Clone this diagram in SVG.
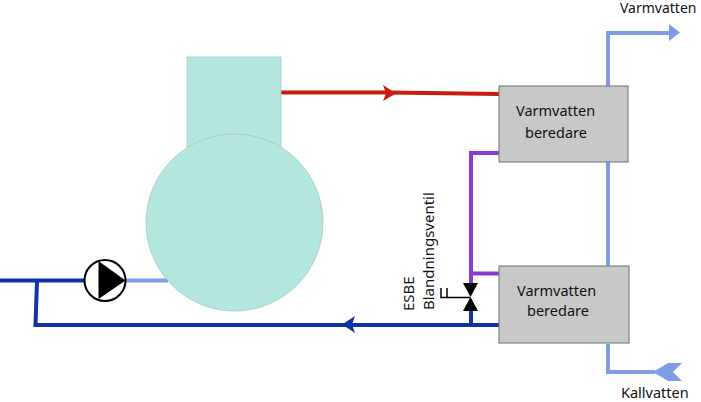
<svg xmlns="http://www.w3.org/2000/svg" width="701" height="402" viewBox="0 0 701 402">
<style>
.p{fill:none;stroke-width:4}
.lb{stroke:#7f9de6}
.db{stroke:#1232a4}
.pu{stroke:#8a3bd6}
.re{stroke:#c81d10}
.box{fill:#c8c8c8;stroke:#6e6e6e;stroke-width:1}
.tank{fill:#b2e6df;stroke:#9cc9c3;stroke-width:.75}
text{font-family:"Noto Sans","Open Sans",sans-serif;font-size:14.500px;fill:#111}
.v{font-size:15px}
.t{font-size:14px}
</style>
<rect width="701" height="402" fill="#fff"/>
<g id="connectors">
<path class="p re" d="M281 92.500H390L500 94"/>
<path class="p lb" d="M608 87V33H670"/>
<path class="p lb" d="M608 162V267"/>
<path class="p lb" d="M608 344V372H655"/>
<path class="p pu" d="M499 153H471V283"/>
<path class="p pu" d="M499 273.500H471"/>
<path class="p db" d="M471 310V325"/>
<path class="p db" d="M0 280.500H100"/>
<path class="p lb" d="M120 280.500H168"/>
<path class="p db" d="M37 281L35.500 325H500"/>
<path d="M383 85L396 93.500L383 101L386 93.500Z" fill="#c81d10"/>
<path d="M669 24L680 32.500L669 41Z" fill="#7f9de6"/>
<path d="M653 372L668 363H682L673 372L682 381H668Z" fill="#7f9de6"/>
<path d="M355 316L342 324.500L355 333L352 324.500Z" fill="#1232a4"/>
</g>
<g id="tank"><rect class="tank" x="187" y="57" width="94" height="95"/><circle class="tank" cx="234.500" cy="222.500" r="88.500"/></g>
<g id="pump"><circle cx="105" cy="280.500" r="20.500" fill="#fff" stroke="#000" stroke-width="2"/><path d="M98.500 261L125.500 280.500L98.500 299Z" fill="#000"/></g>
<g id="valve"><path d="M463 283H478L470.500 297L478 311H463L470.500 297Z" fill="#000"/><path d="M470 297.500H441V288M447 297.500V288" fill="none" stroke="#000" stroke-width="1.500"/>
<text class="v" transform="translate(414 311) rotate(-90)">ESBE</text><text class="v" transform="translate(434 310) rotate(-90)">Blandningsventil</text></g>
<g id="heater1"><rect class="box" x="499" y="86" width="129" height="76"/><text x="516" y="116">Varmvatten</text><text x="525" y="138">beredare</text></g>
<g id="heater2"><rect class="box" x="499" y="266" width="130" height="77"/><text x="517" y="296">Varmvatten</text><text x="527" y="316">beredare</text></g>
<g id="labels"><text class="t" x="620" y="13">Varmvatten</text><text x="621" y="398">Kallvatten</text></g>
</svg>
